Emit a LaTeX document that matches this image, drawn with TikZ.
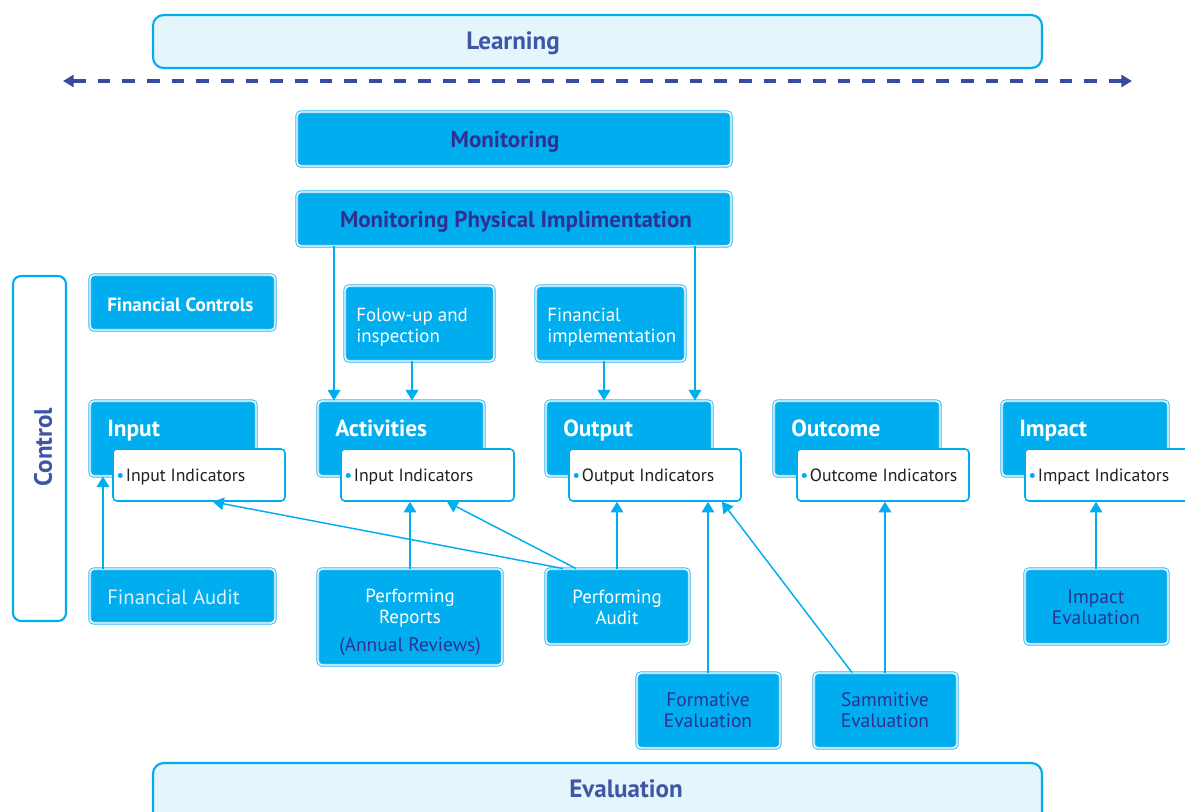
\documentclass[tikz,border=0pt]{standalone}
\usepackage{fontspec}
\setmainfont{PT Sans}
\usetikzlibrary{arrows.meta,fit}
\definecolor{cy}{HTML}{00AEEF}
\definecolor{cyl}{HTML}{2DB8EE}
\definecolor{lb}{HTML}{E4F5FC}
\definecolor{ind}{HTML}{2E3192}
\definecolor{hd}{HTML}{3D56A6}
\definecolor{dsh}{HTML}{3A4B9F}
\definecolor{txt}{HTML}{231F20}
\definecolor{lt}{HTML}{DDF2FB}
\tikzset{
  blk/.style={draw=cyl, double=white, double distance=1.1pt, line width=0.7pt, fill=cy, rounded corners=3pt, inner sep=0pt},
  indbox/.style={draw=cy, line width=1.2pt, fill=white, rounded corners=3pt, inner sep=0pt},
  band/.style={draw=cy, line width=1.6pt, fill=lb, rounded corners=8pt, inner sep=0pt},
  ctrlbox/.style={draw=cy, line width=1.6pt, fill=white, rounded corners=6pt, inner sep=0pt},
  con/.style={draw=cy, line width=1.1pt, -{Triangle[length=8pt,width=9.5pt]}},
  bandtxt/.style={font=\bfseries\fontsize{18.8}{22}\selectfont, text=hd, inner sep=0pt, anchor=mid},
  montxt/.style={font=\bfseries\fontsize{17.2}{20}\selectfont, text=ind, inner sep=0pt, anchor=mid},
  ttl/.style={font=\bfseries\fontsize{17.5}{20}\selectfont, text=white, inner sep=0pt, anchor=mid west},
  wtxt/.style={font=\fontsize{14.2}{15.75}\selectfont, text=white, inner sep=0pt},
  dtxt/.style={font=\fontsize{14.6}{15.75}\selectfont, text=ind, inner sep=0pt, align=center},
  itxt/.style={font=\fontsize{13.3}{15}\selectfont, text=txt, inner sep=0pt, anchor=mid west},
}
\newcommand{\bul}{{\color{cy}\textbullet}\hspace{1.2pt}}
\begin{document}
\begin{tikzpicture}[x=0.75pt,y=-0.75pt]
\useasboundingbox (0,0) rectangle (1185,811);
% bands
\node[band, fit={(153,15)(1042,68)}] (learn) {};
\node[bandtxt] (learnt) at (513,46) {Learning};
\node[band, fit={(153,763)(1042,835)}] (eval) {};
\node[bandtxt] (evalt) at (626,794) {Evaluation};
% dashed arrow
\coordinate (dl) at (63,81);
\coordinate (dr) at (1132,81);
\draw[draw=dsh, line width=2.3pt, dash pattern=on 9.5pt off 9pt, {Triangle[length=8pt,width=9pt]}-{Triangle[length=8pt,width=9pt]}] (dl) -- (dr);
% monitoring
\node[blk, fit={(297,112)(731,166)}] (mon) {};
\node[montxt] (mont) at (505,144) {Monitoring};
\node[blk, fit={(297,192)(731,246)}] (mpi) {};
\node[montxt] (mpit) at (516,224) {Monitoring Physical Implimentation};
% control
\node[ctrlbox, fit={(13,276)(66,621)}] (ctrl) {};
\node[bandtxt, rotate=90, anchor=center] (ctrlt) at (43,447) {Control};
% upper boxes
\node[blk, fit={(90,275)(275,330)}] (fc) {};
\node[font=\bfseries\fontsize{14.3}{16}\selectfont, text=white, inner sep=0pt, anchor=mid west] (fct) at (107,308) {Financial Controls};
\node[blk, fit={(345,286)(494,361)}] (fu) {};
\node[wtxt, anchor=west, align=left] (fut) at (356,327) {Folow-up and\\inspection};
\node[blk, fit={(536,286)(685,361)}] (fi) {};
\node[wtxt, anchor=west, align=left] (fit) at (547,327) {Financial\\implementation};
% chain
\node[blk, fit={(90,401)(256,476)}] (in) {};
\node[ttl] (int) at (107,433) {Input};
\node[indbox, fit={(113,449)(285,501)}] (inI) {};
\node[itxt] (inIt) at (116,478) {\bul Input Indicators};
\node[blk, fit={(318,401)(484,476)}] (ac) {};
\node[ttl] (act) at (335,433) {Activities};
\node[indbox, fit={(341,449)(514,501)}] (acI) {};
\node[itxt] (acIt) at (344,478) {\bul Input Indicators};
\node[blk, fit={(546,401)(712,476)}] (ou) {};
\node[ttl] (out) at (563,433) {Output};
\node[indbox, fit={(569,449)(741,501)}] (ouI) {};
\node[itxt] (ouIt) at (572,478) {\bul Output Indicators};
\node[blk, fit={(774,401)(940,476)}] (oc) {};
\node[ttl] (oct) at (791,433) {Outcome};
\node[indbox, fit={(797,449)(969,501)}] (ocI) {};
\node[itxt] (ocIt) at (800,478) {\bul Outcome Indicators};
\node[blk, fit={(1002,401)(1168,476)}] (im) {};
\node[ttl] (imt) at (1019,433) {Impact};
\node[indbox, fit={(1025,449)(1205,501)}] (imI) {};
\node[itxt] (imIt) at (1028,478) {\bul Impact Indicators};
% lower boxes
\node[blk, fit={(90,569)(275,623)}] (fa) {};
\node[font=\fontsize{15.5}{17}\selectfont, text=lt, inner sep=0pt, anchor=mid west] (fat) at (107,601) {Financial Audit};
\node[blk, fit={(318,569)(502,665)}] (pr) {};
\node[wtxt, align=center] (prt) at (410,608.5) {Performing\\Reports};
\node[dtxt] (prt2) at (410,647) {(Annual Reviews)};
\node[blk, fit={(546,569)(689,644)}] (pa) {};
\node[wtxt, align=center] (pat) at (617,607) {Performing\\Audit};
\node[blk, fit={(637,673)(780,748)}] (fe) {};
\node[dtxt] (fet) at (708,710.5) {Formative\\Evaluation};
\node[blk, fit={(814,673)(957,748)}] (se) {};
\node[dtxt] (set) at (885,710.5) {Sammitive\\Evaluation};
\node[blk, fit={(1025,569)(1168,644)}] (ie) {};
\node[dtxt] (iet) at (1096,607) {Impact\\Evaluation};
% x guides
\foreach \x in {103,213,334,410,412,447,563,576,604,617,695,708,722,852,885,1096}
  \coordinate (x\x) at (\x,0);
% connectors
\draw[con] (mpi.south -| x334) -- (ac.north -| x334);
\draw[con] (mpi.south -| x695) -- (ou.north -| x695);
\draw[con] (fu.south -| x412) -- (ac.north -| x412);
\draw[con] (fi.south -| x604) -- (ou.north -| x604);
\draw[con] (fa.north -| x103) -- (in.south -| x103);
\draw[con] (pr.north -| x410) -- (acI.south -| x410);
\draw[con] (pa.north -| x563) -- (inI.south -| x213);
\draw[con] (pa.north -| x576) -- (acI.south -| x447);
\draw[con] (pa.north -| x617) -- (ouI.south -| x617);
\draw[con] (fe.north -| x708) -- (ouI.south -| x708);
\draw[con] (se.north -| x852) -- (ouI.south -| x722);
\draw[con] (se.north -| x885) -- (ocI.south -| x885);
\draw[con] (ie.north -| x1096) -- (imI.south -| x1096);
\end{tikzpicture}
\end{document}
